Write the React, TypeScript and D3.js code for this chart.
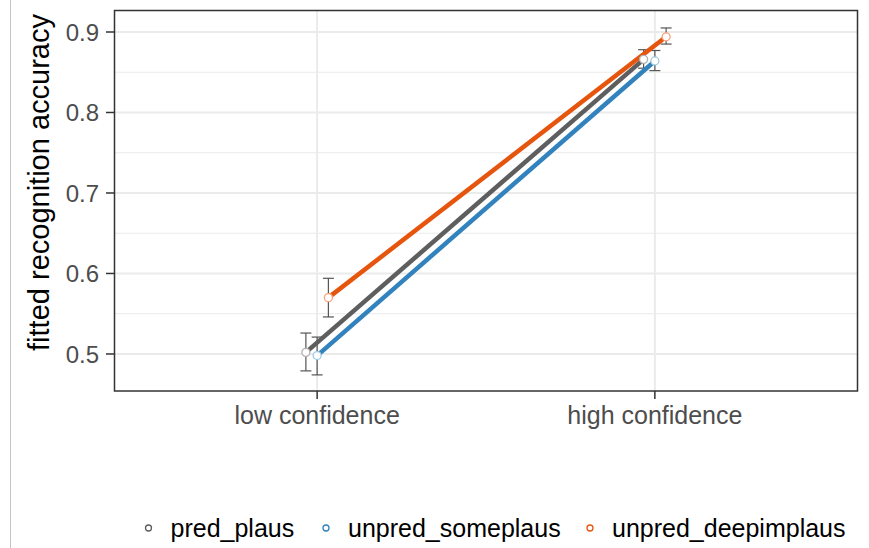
import React from 'react';
import * as d3 from 'd3';

const conditions = ['low confidence', 'high confidence'];
const seriesNames = ['pred_plaus', 'unpred_someplaus', 'unpred_deepimplaus'];
const predPlaus = [0.502, 0.866];
const predPlausLo = [0.479, 0.855];
const predPlausHi = [0.526, 0.878];
const unpredSome = [0.498, 0.864];
const unpredSomeLo = [0.474, 0.852];
const unpredSomeHi = [0.521, 0.877];
const unpredDeep = [0.570, 0.894];
const unpredDeepLo = [0.546, 0.885];
const unpredDeepHi = [0.594, 0.905];
const yTicks = [0.5, 0.6, 0.7, 0.8, 0.9];
const yMinor = [0.55, 0.65, 0.75, 0.85];

const lineColors = ['#5e5e5e', '#3182bd', '#e6550d'];
const pointColors = ['#b0b0b0', '#9ecae1', '#f7a27a'];

const W = 869, H = 548;
const L = 114.5, R = 857.5, T = 10.5, B = 391;
const FONT = '"Liberation Sans", Arial, sans-serif';

export default function App() {
  const x = d3.scalePoint<string>().domain(conditions).range([L, R]).padding(0.6);
  const step = x.step();
  const dodge = d3.scalePoint<string>().domain(seriesNames).range([-step * 0.1 / 3, step * 0.1 / 3]);
  const y = d3.scaleLinear().domain([0.454, 0.9267]).range([B, T]);

  const series = [
    { name: seriesNames[0], v: predPlaus, lo: predPlausLo, hi: predPlausHi },
    { name: seriesNames[1], v: unpredSome, lo: unpredSomeLo, hi: unpredSomeHi },
    { name: seriesNames[2], v: unpredDeep, lo: unpredDeepLo, hi: unpredDeepHi },
  ];
  const line = d3.line<[number, number]>().x(d => d[0]).y(d => d[1]);
  const legendKeyX = [148.5, 326, 590];

  return (
    <svg width={W} height={H} style={{ position: 'absolute', left: 0, top: 0, background: '#fff' }} fontFamily={FONT}>
      <rect x={0} y={0} width={W} height={H} fill="#fff" />
      <line x1={10.5} x2={10.5} y1={0} y2={H} stroke="#c4c4c4" strokeWidth={1} />
      {/* grid */}
      {yMinor.map(t => (
        <line key={'mn' + t} x1={L} x2={R} y1={y(t)} y2={y(t)} stroke="#ebebeb" strokeWidth={1} />
      ))}
      {yTicks.map(t => (
        <line key={'mj' + t} x1={L} x2={R} y1={y(t)} y2={y(t)} stroke="#ebebeb" strokeWidth={2} />
      ))}
      {conditions.map(c => (
        <line key={'gx' + c} x1={x(c)} x2={x(c)} y1={T} y2={B} stroke="#ebebeb" strokeWidth={2} />
      ))}
      {/* error bars */}
      {series.map(s => conditions.map((c, i) => {
        const cx = (x(c) as number) + (dodge(s.name) as number);
        return (
          <g key={'eb' + s.name + c} stroke="#555" strokeWidth={1.2} fill="none">
            <line x1={cx} x2={cx} y1={y(s.lo[i])} y2={y(s.hi[i])} />
            <line x1={cx - 5.5} x2={cx + 5.5} y1={y(s.lo[i])} y2={y(s.lo[i])} />
            <line x1={cx - 5.5} x2={cx + 5.5} y1={y(s.hi[i])} y2={y(s.hi[i])} />
          </g>
        );
      }))}
      {/* lines */}
      {series.map((s, k) => (
        <path key={'ln' + s.name}
          d={line(conditions.map((c, i) => [(x(c) as number) + (dodge(s.name) as number), y(s.v[i])]))!}
          stroke={lineColors[k]} strokeWidth={4.5} fill="none" />
      ))}
      {/* points */}
      {series.map((s, k) => conditions.map((c, i) => (
        <circle key={'pt' + s.name + c} cx={(x(c) as number) + (dodge(s.name) as number)} cy={y(s.v[i])}
          r={4} fill="#fff" stroke={pointColors[k]} strokeWidth={1.3} />
      )))}
      {/* panel border */}
      <rect x={L} y={T} width={R - L} height={B - T} fill="none" stroke="#333" strokeWidth={1.5} />
      {/* y axis */}
      {yTicks.map(t => (
        <g key={'yt' + t}>
          <line x1={106} x2={L} y1={y(t)} y2={y(t)} stroke="#333" strokeWidth={1.5} />
          <text x={99} y={y(t)} dy="0.36em" textAnchor="end" fontSize={24} fill="#4d4d4d">{d3.format('.1f')(t)}</text>
        </g>
      ))}
      {/* x axis */}
      {conditions.map(c => (
        <g key={'xt' + c}>
          <line x1={x(c)} x2={x(c)} y1={B} y2={B + 8} stroke="#333" strokeWidth={1.5} />
          <text x={x(c)} y={424} textAnchor="middle" fontSize={25} fill="#4d4d4d">{c}</text>
        </g>
      ))}
      <text transform={`translate(49,182.5) rotate(-90)`} textAnchor="middle" fontSize={29} fill="#000">fitted recognition accuracy</text>
      {/* legend */}
      {series.map((s, k) => (
        <g key={'lg' + s.name}>
          <circle cx={legendKeyX[k]} cy={528} r={3} fill="#fff" stroke={lineColors[k]} strokeWidth={1.3} />
          <text x={legendKeyX[k] + 22} y={528} dy="0.36em" fontSize={25} fill="#000">{s.name}</text>
        </g>
      ))}
    </svg>
  );
}
